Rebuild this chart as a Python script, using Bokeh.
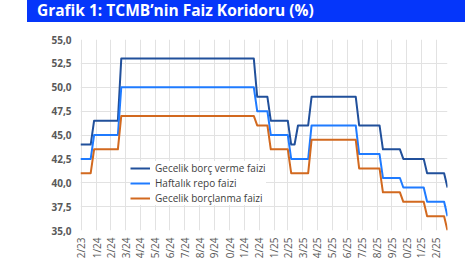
import pandas as pd
from math import pi
from datetime import datetime
from bokeh.plotting import figure
from bokeh.models import (Range1d, FixedTicker, CustomJSTickFormatter, Legend,
                          LegendItem, Div)
from bokeh.layouts import column
from bokeh.embed import file_html
from bokeh.resources import INLINE

# ---------------- data ----------------
title_text = "Grafik 1: TCMB’nin Faiz Koridoru (%)"

series_names = ["Gecelik borç verme faizi", "Haftalık repo faizi", "Gecelik borçlanma faizi"]

dates = ["2023-12-29", "2024-01-19", "2024-01-26", "2024-03-15", "2024-03-22",
         "2024-12-20", "2024-12-27", "2025-01-17", "2025-01-24", "2025-02-28",
         "2025-03-07", "2025-03-14", "2025-03-21", "2025-04-11", "2025-04-18",
         "2025-07-18", "2025-07-25", "2025-09-05", "2025-09-12", "2025-10-17",
         "2025-10-24", "2025-12-05", "2025-12-12", "2026-01-16", "2026-01-23"]

lending = [44.0, 44.0, 46.5, 46.5, 53.0,
           53.0, 49.0, 49.0, 46.5, 46.5,
           44.0, 44.0, 46.0, 46.0, 49.0,
           49.0, 46.0, 46.0, 43.5, 43.5,
           42.5, 42.5, 41.0, 41.0, 39.5]

repo = [42.5, 42.5, 45.0, 45.0, 50.0,
        50.0, 47.5, 47.5, 45.0, 45.0,
        42.5, 42.5, 42.5, 42.5, 46.0,
        46.0, 43.0, 43.0, 40.5, 40.5,
        39.5, 39.5, 38.0, 38.0, 36.5]

borrowing = [41.0, 41.0, 43.5, 43.5, 47.0,
             47.0, 46.0, 46.0, 43.5, 43.5,
             41.0, 41.0, 41.0, 41.0, 44.5,
             44.5, 41.5, 41.5, 39.0, 39.0,
             38.0, 38.0, 36.5, 36.5, 35.0]

tick_dates = ["2023-12-31", "2024-01-31", "2024-02-29", "2024-03-31", "2024-04-30",
              "2024-05-31", "2024-06-30", "2024-07-31", "2024-08-31", "2024-09-30",
              "2024-10-31", "2024-11-30", "2024-12-31", "2025-01-31", "2025-02-28",
              "2025-03-31", "2025-04-30", "2025-05-31", "2025-06-30", "2025-07-31",
              "2025-08-31", "2025-09-30", "2025-10-31", "2025-11-30", "2025-12-31"]
tick_labels = ["2/23", "1/24", "2/24", "3/24", "4/24", "5/24", "6/24", "7/24", "8/24",
               "9/24", "0/24", "1/24", "2/24", "1/25", "2/25", "3/25", "4/25", "5/25",
               "6/25", "7/25", "8/25", "9/25", "0/25", "1/25", "2/25"]

y_ticks = [35.0, 37.5, 40.0, 42.5, 45.0, 47.5, 50.0, 52.5, 55.0]

colors = ["#21509B", "#1F7BFF", "#D2691F"]

# ---------------- figure ----------------
x = pd.to_datetime(dates)
tick_ms = [int((pd.Timestamp(d) - pd.Timestamp("1970-01-01")) // pd.Timedelta("1ms"))
           for d in tick_dates]

p = figure(width=471, height=239, x_axis_type="datetime",
           x_range=Range1d(datetime(2023, 12, 29), datetime(2026, 1, 23)),
           y_range=Range1d(35, 55),
           output_backend="svg", toolbar_location=None,
           min_border_left=80, min_border_right=24,
           min_border_top=17, min_border_bottom=31)
p.outline_line_color = None
p.background_fill_color = "white"
p.border_fill_color = "white"

p.xaxis.ticker = FixedTicker(ticks=tick_ms)
p.xaxis.major_label_overrides = {t: l for t, l in zip(tick_ms, tick_labels)}
p.xaxis.major_label_orientation = pi / 2
p.xaxis.major_label_standoff = 7
p.yaxis.ticker = FixedTicker(ticks=y_ticks)
p.yaxis.formatter = CustomJSTickFormatter(code="return tick.toFixed(1).replace('.', ',');")
p.yaxis.major_label_standoff = 9

for ax in (p.xaxis, p.yaxis):
    ax.axis_line_color = None
    ax.major_tick_line_color = None
    ax.minor_tick_line_color = None
    ax.major_tick_out = 0
    ax.major_tick_in = 0
    ax.major_label_text_font = "Open Sans"
    ax.major_label_text_color = "#595959"
    ax.major_label_text_font_size = "10px"
p.yaxis.major_label_text_font_style = "bold"

p.xgrid.grid_line_color = "#E2E2E2"
p.ygrid.grid_line_color = "#E2E2E2"
p.xgrid.grid_line_width = 1
p.ygrid.grid_line_width = 1

renderers = []
for vals, c in zip([lending, repo, borrowing], colors):
    r = p.line(x=x, y=vals, line_color=c, line_width=2, line_join="round")
    renderers.append(r)

legend = Legend(items=[LegendItem(label=n, renderers=[r]) for n, r in zip(series_names, renderers)],
                location=(50, 25), orientation="vertical", padding=6, margin=0, spacing=1,
                glyph_width=20, glyph_height=14, label_height=14, label_standoff=5,
                label_text_font="Open Sans", label_text_font_size="10px",
                label_text_color="#404040", background_fill_color="white",
                background_fill_alpha=1.0, border_line_color=None)
p.add_layout(legend)

title = Div(text=('<div style="padding-left:10px;color:white;font-family:\'Open Sans\';'
                  'font-weight:bold;font-size:15.5px;line-height:21px;white-space:nowrap;">'
                  + title_text + '</div>'),
            width=438, height=22, margin=(0, 0, 0, 27),
            styles={"background-color": "#0536FA", "overflow": "hidden"})

layout = column(title, p, spacing=0)
open("out.html", "w").write(file_html(layout, INLINE))
